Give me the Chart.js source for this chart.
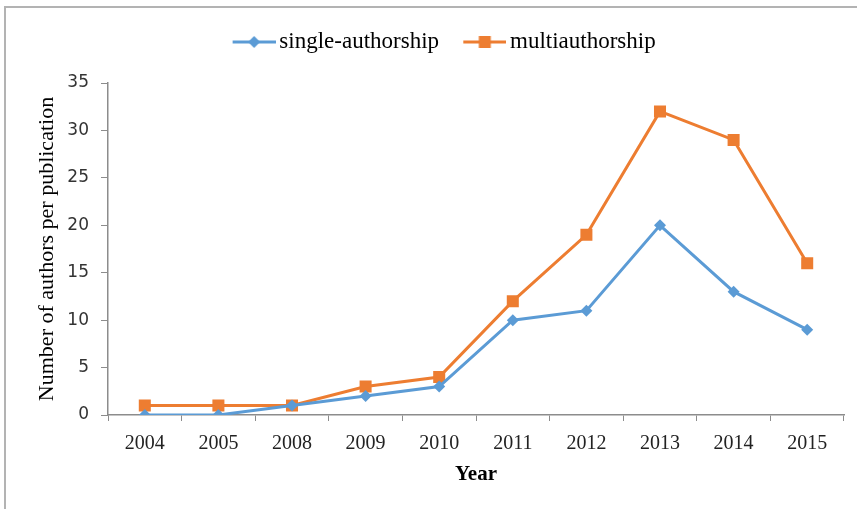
<!DOCTYPE html>
<html>
<head>
<meta charset="utf-8">
<script src="https://cdn.jsdelivr.net/npm/chart.js@4"></script>
<style>
  html, body { margin: 0; padding: 0; background: #fff; overflow: hidden; }
  #frame {
    position: absolute; left: 4px; top: 6px; width: 900px; height: 600px;
    border-top: 2px solid #b3b3b3; border-left: 2px solid #b3b3b3;
  }
  #wrap { position: absolute; left: 0; top: 0; width: 857px; height: 509px; }
</style>
</head>
<body>
<div id="frame"></div>
<div id="wrap"><canvas id="chart"></canvas></div>
<script>
// values
const years = ['2004', '2005', '2008', '2009', '2010', '2011', '2012', '2013', '2014', '2015'];
const singleAuthorship = [0, 0, 1, 2, 3, 10, 11, 20, 13, 9];
const multiAuthorship = [1, 1, 1, 3, 4, 12, 19, 32, 29, 16];
const yTicks = [0, 5, 10, 15, 20, 25, 30, 35];

const blue = '#5b9bd5';
const orange = '#ed7d31';
const axisGray = '#8c8c8c';
const serif = '"Liberation Serif", "Times New Roman", serif';

// line + marker pictures for the legend (left part left transparent for spacing)
function legendIcon(color, shape) {
    const c = document.createElement('canvas');
    c.width = 70;
    c.height = 16;
    const g = c.getContext('2d');
    g.strokeStyle = color;
    g.lineWidth = 3;
    g.beginPath();
    g.moveTo(27, 8);
    g.lineTo(70, 8);
    g.stroke();
    g.fillStyle = color;
    g.beginPath();
    if (shape === 'diamond') {
        g.moveTo(48.5, 2); g.lineTo(54.5, 8); g.lineTo(48.5, 14); g.lineTo(42.5, 8);
    } else {
        g.rect(42.5, 2, 12, 12);
    }
    g.closePath();
    g.fill();
    return c;
}
const icons = [legendIcon(blue, 'diamond'), legendIcon(orange, 'square')];

const ctx = document.getElementById('chart').getContext('2d');
const chart = new Chart(ctx, {
    type: 'line',
    data: {
        labels: years,
        datasets: [
            {
                label: 'single-authorship',
                data: singleAuthorship,
                borderColor: blue,
                backgroundColor: blue,
                borderWidth: 3,
                pointStyle: 'rectRot',
                pointRadius: 6,
                pointBorderWidth: 0,
                tension: 0
            },
            {
                label: 'multiauthorship',
                data: multiAuthorship,
                borderColor: orange,
                backgroundColor: orange,
                borderWidth: 3,
                pointStyle: 'rect',
                pointRadius: 8.5,
                pointBorderWidth: 0,
                tension: 0
            }
        ]
    },
    options: {
        responsive: true,
        maintainAspectRatio: false,
        animation: false,
        layout: { padding: { left: 25, right: 13, top: 25.5, bottom: 0 } },
        plugins: {
            legend: {
                position: 'top',
                labels: {
                    usePointStyle: true,
                    pointStyleWidth: 54.5,
                    padding: 5,
                    color: '#000',
                    font: { family: serif, size: 23 },
                    generateLabels(chart) {
                        const items = Chart.defaults.plugins.legend.labels.generateLabels(chart);
                        items.forEach((it, i) => { it.pointStyle = icons[i]; });
                        return items;
                    }
                }
            },
            // empty spacer between the legend and the plot
            title: {
                display: true,
                text: ' ',
                weight: 500,
                padding: 4.75,
                font: { size: 10, lineHeight: 1 }
            },
            tooltip: { enabled: false }
        },
        scales: {
            x: {
                offset: true,
                grid: {
                    offset: true,
                    drawOnChartArea: false,
                    color: axisGray,
                    tickLength: 6
                },
                border: { color: axisGray, width: 1.5 },
                ticks: {
                    color: '#222',
                    padding: 11,
                    maxRotation: 0,
                    font: { family: serif, size: 20 }
                },
                title: {
                    display: true,
                    text: 'Year',
                    color: '#000',
                    padding: { top: 0, bottom: 22 },
                    font: { family: serif, size: 21, weight: 'bold' }
                },
                afterFit(scale) { scale.height = 94; }
            },
            y: {
                min: 0,
                max: 35,
                afterBuildTicks(scale) { scale.ticks = yTicks.map(v => ({ value: v })); },
                grid: {
                    drawOnChartArea: false,
                    color: axisGray,
                    tickLength: 7
                },
                border: { color: axisGray, width: 1.5 },
                ticks: {
                    color: '#333',
                    padding: 12,
                    font: { family: '"DejaVu Sans", sans-serif', size: 17 }
                },
                title: {
                    display: true,
                    text: 'Number of authors per publication',
                    color: '#000',
                    padding: { top: 9, bottom: 9 },
                    font: { family: serif, size: 22 }
                },
                afterFit(scale) { scale.width = 83; }
            }
        }
    }
});
</script>
</body>
</html>
